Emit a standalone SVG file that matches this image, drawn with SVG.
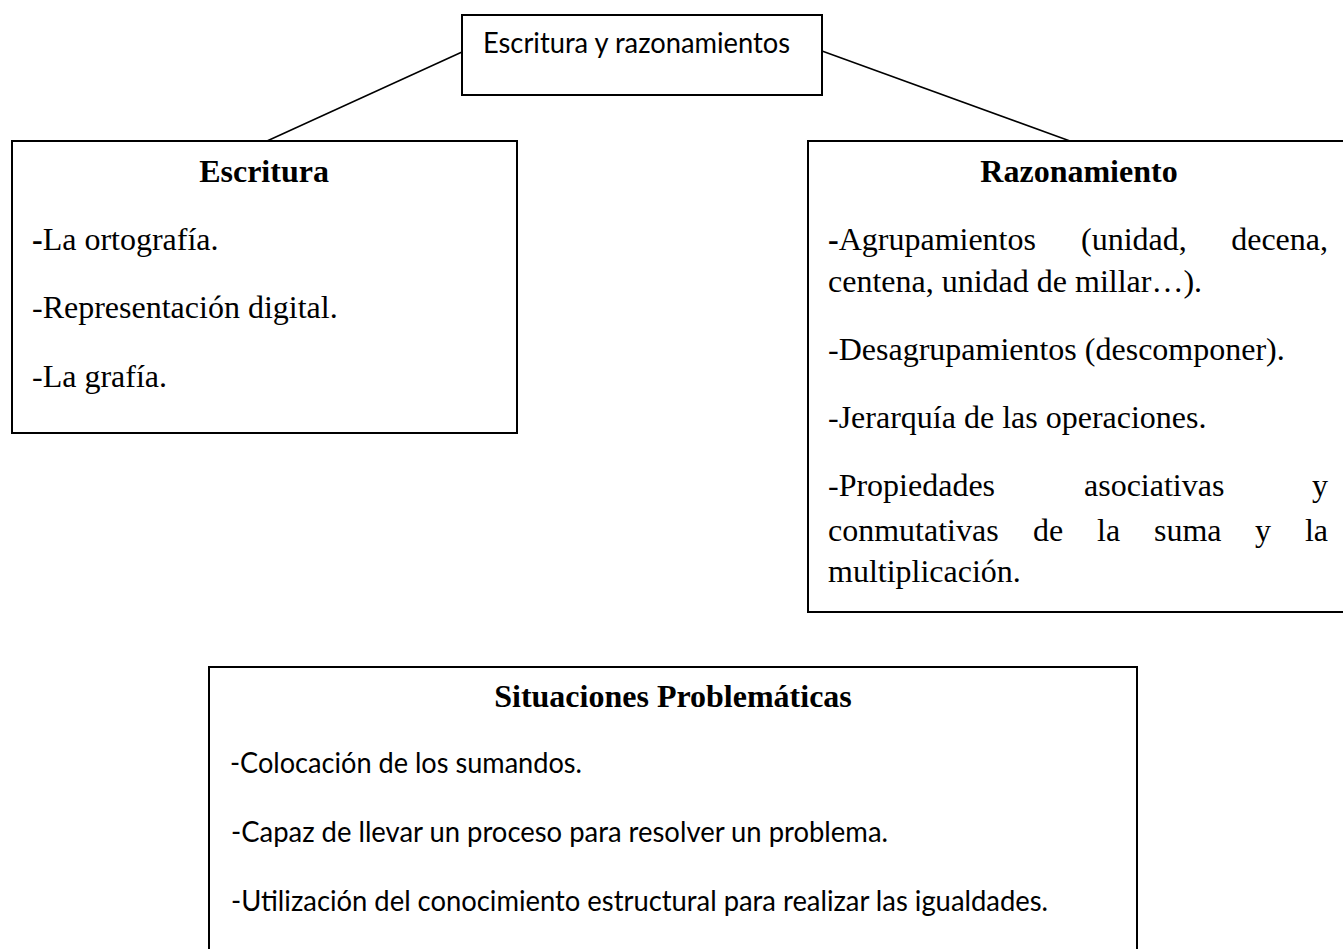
<svg xmlns="http://www.w3.org/2000/svg" width="1343" height="949" viewBox="0 0 1343 949">
<style>
.box{fill:#fff;stroke:#000;stroke-width:2}
.conn{stroke:#000;stroke-width:1.5;fill:none}
.tnr{font-family:"Liberation Serif","Times New Roman",serif;font-size:32px;fill:#000}
.b{font-weight:bold}
.cal{font-family:Lato,"Liberation Sans",sans-serif;font-size:29px;fill:#000}
</style>
<rect width="1343" height="949" fill="#fff"/>
<g id="connectors">
<line class="conn" x1="462" y1="52" x2="267" y2="141"/>
<line class="conn" x1="822" y1="51" x2="1070" y2="141"/>
</g>
<g id="node-top">
<rect class="box" x="462" y="15" width="360" height="80"/>
<text class="cal" x="483" y="53" textLength="307" lengthAdjust="spacingAndGlyphs">Escritura y razonamientos</text>
</g>
<g id="node-escritura">
<rect class="box" x="12" y="141" width="505" height="292"/>
<text class="tnr b" x="264" y="182" text-anchor="middle">Escritura</text>
<text class="tnr" x="32" y="250"><tspan class="b">-</tspan>La ortografía.</text>
<text class="tnr" x="32" y="318">-Representación digital.</text>
<text class="tnr" x="32" y="387">-La grafía.</text>
</g>
<g id="node-razonamiento">
<rect class="box" x="808" y="141" width="542" height="471"/>
<text class="tnr b" x="1079" y="182" text-anchor="middle">Razonamiento</text>
<text class="tnr" x="828" y="250"><tspan class="b">-</tspan>Agrupamientos</text>
<text class="tnr" x="1081" y="250">(unidad,</text>
<text class="tnr" x="1328" y="250" text-anchor="end">decena,</text>
<text class="tnr" x="828" y="292">centena, unidad de millar…).</text>
<text class="tnr" x="828" y="360">-Desagrupamientos (descomponer).</text>
<text class="tnr" x="828" y="428">-Jerarquía de las operaciones.</text>
<text class="tnr" y="496"><tspan x="828">-Propiedades</tspan><tspan x="1084">asociativas</tspan></text>
<text class="tnr" x="1328" y="496" text-anchor="end">y</text>
<text class="tnr" y="541"><tspan x="828">conmutativas</tspan><tspan x="1033">de</tspan><tspan x="1097">la</tspan><tspan x="1154">suma</tspan><tspan x="1255">y</tspan></text>
<text class="tnr" x="1328" y="541" text-anchor="end">la</text>
<text class="tnr" x="828" y="582">multiplicación.</text>
</g>
<g id="node-situaciones">
<rect class="box" x="209" y="667" width="928" height="300"/>
<text class="tnr b" x="673" y="707" text-anchor="middle">Situaciones Problemáticas</text>
<text class="cal" x="230" y="773" textLength="352" lengthAdjust="spacingAndGlyphs">-Colocación de los sumandos.</text>
<text class="cal" x="231" y="842" textLength="657" lengthAdjust="spacingAndGlyphs">-Capaz de llevar un proceso para resolver un problema.</text>
<text class="cal" x="231" y="911" textLength="817" lengthAdjust="spacingAndGlyphs">-Utilización del conocimiento estructural para realizar las igualdades.</text>
</g>
</svg>
